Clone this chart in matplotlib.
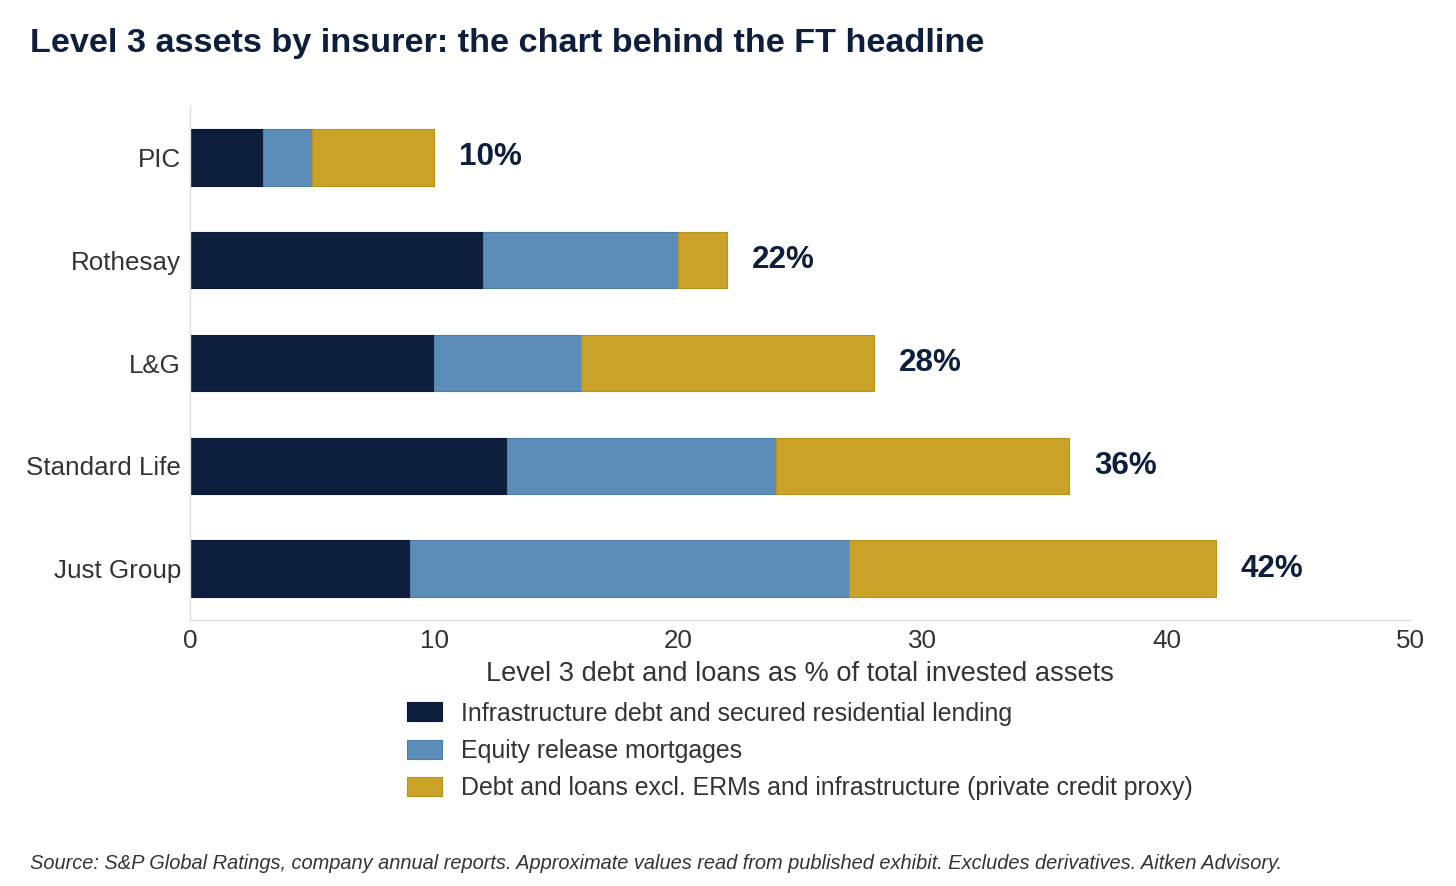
import matplotlib.pyplot as plt
import numpy as np

plt.rcParams['font.family'] = ['Liberation Sans', 'DejaVu Sans']

# data (bottom to top on the chart)
insurers = ['Just Group', 'Standard Life', 'L&G', 'Rothesay', 'PIC']
infra = [9, 13, 10, 12, 3]
erm = [18, 11, 6, 8, 2]
other = [15, 12, 12, 2, 5]
totals = [42, 36, 28, 22, 10]

series_names = [
    'Infrastructure debt and secured residential lending',
    'Equity release mortgages',
    'Debt and loans excl. ERMs and infrastructure (private credit proxy)',
]
colors = ['#0d1f3c', '#5b8db8', '#c9a227']
edges = ['#0a1830', '#4f7fa8', '#b8921c']

navy = '#0d1f3c'
grey_text = '#333333'

fig = plt.figure(figsize=(14.56, 8.86), dpi=100)
ax = fig.add_axes([0.1305, 0.300, 0.8385, 0.5805])

y = np.arange(len(insurers))
left = np.zeros(len(insurers))
for vals, name, c, ec in zip([infra, erm, other], series_names, colors, edges):
    ax.barh(y, vals, left=left, height=0.55, color=c, edgecolor=ec,
            linewidth=0.8, label=name)
    left = left + np.array(vals)

for yi, t in zip(y, totals):
    ax.text(t + 1.03, yi, f'{t}%', va='center', ha='left', fontsize=22.6,
            fontweight='bold', color=navy)

ax.set_xlim(0, 50)
ax.set_ylim(-0.5, 4.5)
ax.set_yticks(y)
ax.set_yticklabels(insurers)
ax.set_xticks([0, 10, 20, 30, 40, 50])
ax.tick_params(axis='both', length=0, labelsize=18.7, colors=grey_text)
ax.tick_params(axis='y', pad=6.5)
ax.tick_params(axis='x', pad=6)
ax.set_xlabel('Level 3 debt and loans as % of total invested assets',
              fontsize=19.6, color=grey_text, labelpad=6)

for s in ['top', 'right']:
    ax.spines[s].set_visible(False)
for s in ['left', 'bottom']:
    ax.spines[s].set_color('#dddddd')
    ax.spines[s].set_linewidth(1.0)

leg = ax.legend(loc='upper left', bbox_to_anchor=(0.1597, -0.1145),
                frameon=False, fontsize=17.95, handlelength=1.4,
                handleheight=0.8, labelspacing=0.53, handletextpad=0.75)
for t in leg.get_texts():
    t.set_color(grey_text)

fig.text(0.0205, 0.941, 'Level 3 assets by insurer: the chart behind the FT headline',
         fontsize=24.65, fontweight='bold', color=navy, ha='left', va='baseline')
fig.text(0.0205, 0.019,
         'Source: S&P Global Ratings, company annual reports. Approximate values read '
         'from published exhibit. Excludes derivatives. Aitken Advisory.',
         fontsize=14.43, style='italic', color=grey_text, ha='left', va='baseline')

fig.savefig('out.png', dpi=100)
